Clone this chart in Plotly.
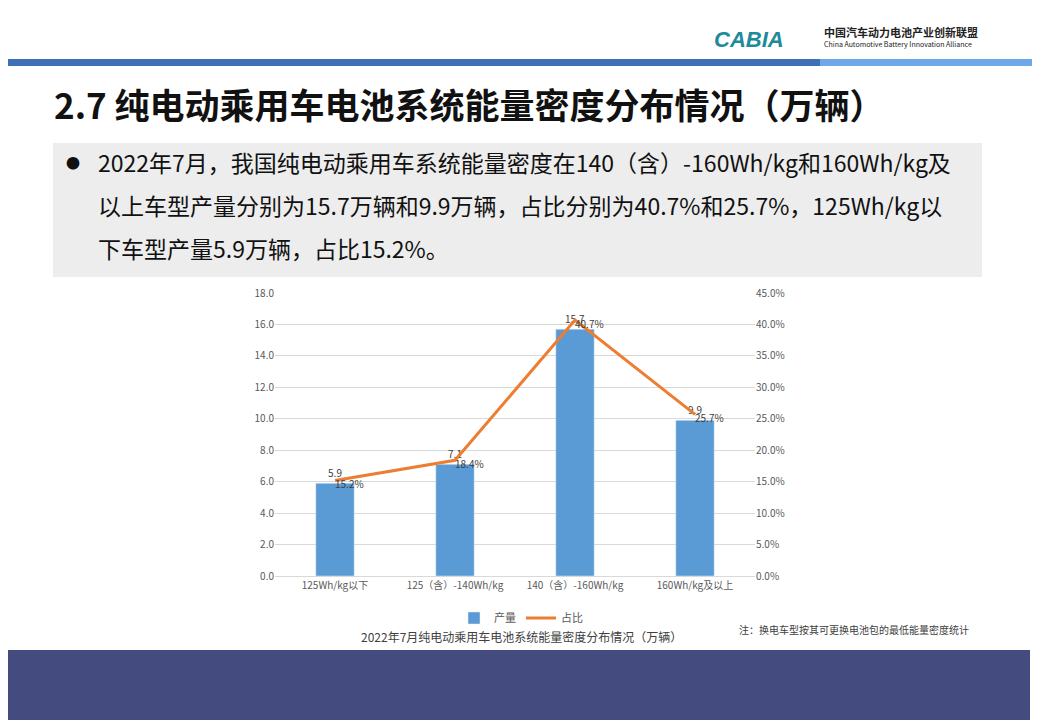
import plotly.graph_objects as go

categories = ["125Wh/kg以下", "125（含）-140Wh/kg", "140（含）-160Wh/kg", "160Wh/kg及以上"]
output_10k = [5.9, 7.1, 15.7, 9.9]
share_pct = [15.2, 18.4, 40.7, 25.7]
summary_lines = [
    "2022年7月，我国纯电动乘用车系统能量密度在140（含）-160Wh/kg和160Wh/kg及",
    "以上车型产量分别为15.7万辆和9.9万辆，占比分别为40.7%和25.7%，125Wh/kg以",
    "下车型产量5.9万辆，占比15.2%。",
]

W, H = 1040, 720
OFF = 8  # page body margin
def px(x): return (x - OFF) / W
def py(y): return 1 - (y - OFF) / H

fig = go.Figure()
fig.add_trace(go.Bar(
    x=categories, y=output_10k, name="产量", marker_color="#5B9BD5", width=0.32,
    text=[f"{v:.1f}" for v in output_10k], textposition="outside",
    textfont=dict(size=10, color="#404040"), cliponaxis=False,
))
fig.add_trace(go.Scatter(
    x=categories, y=share_pct, name="占比", yaxis="y2", mode="lines+text",
    line=dict(color="#ED7D31", width=3),
    text=[f"{v:.1f}%" for v in share_pct], textposition="bottom right",
    textfont=dict(size=10, color="#404040"), cliponaxis=False,
))

shapes = [
    dict(type="rect", xref="paper", yref="paper", x0=0, x1=1, y0=py(66), y1=py(59),
         fillcolor="#3F6FB6", line_width=0, layer="below"),
    dict(type="rect", xref="paper", yref="paper", x0=px(820), x1=1, y0=py(66), y1=py(59),
         fillcolor="#6FA8E8", line_width=0, layer="below"),
    dict(type="rect", xref="paper", yref="paper", x0=px(53), x1=px(982), y0=py(277), y1=py(143),
         fillcolor="#EDEDED", line_width=0, layer="below"),
    dict(type="rect", xref="paper", yref="paper", x0=0, x1=px(1030), y0=0, y1=py(650),
         fillcolor="#434B7F", line_width=0, layer="below"),
]

def note(text, x, y, xanchor="left", yanchor="middle", **kw):
    return dict(text=text, x=px(x), y=py(y), xref="paper", yref="paper",
                xanchor=xanchor, yanchor=yanchor, showarrow=False, **kw)

annotations = [
    note("<b>2.7 纯电动乘用车电池系统能量密度分布情况（万辆）</b>", 52, 104,
         font=dict(size=35, color="#111111", family="Noto Sans CJK SC")),
    note("<b><i>CABIA</i></b>", 712, 40, font=dict(size=22, color="#1E8A9A", family="Liberation Sans")),
    note("<b>中国汽车动力电池产业创新联盟</b>", 822, 32, font=dict(size=11, color="#222222")),
    note("China Automotive Battery Innovation Alliance", 822, 44, font=dict(size=7, color="#222222")),
    note("●", 64, 162, font=dict(size=14, color="#111111")),
    note("2022年7月纯电动乘用车电池系统能量密度分布情况（万辆）", 521, 636, xanchor="center",
         font=dict(size=12, color="#404040")),
    note("注：换电车型按其可更换电池包的最低能量密度统计", 737, 629,
         font=dict(size=10, color="#404040")),
]
for i, line in enumerate(summary_lines):
    annotations.append(note(line, 96, 162 + 43 * i,
                            font=dict(size=23, color="#111111", family="Noto Sans CJK SC")))

fig.update_layout(
    width=W, height=H, margin=dict(l=0, r=0, t=0, b=0, autoexpand=False),
    paper_bgcolor="white", plot_bgcolor="white",
    shapes=shapes, annotations=annotations, showlegend=True,
    font=dict(family="Noto Sans CJK SC", size=10, color="#595959"),
    xaxis=dict(domain=[px(275), px(755)], showgrid=False, showline=True, linecolor="#D9D9D9",
               tickfont=dict(size=10, color="#595959"), ticks=""),
    yaxis=dict(range=[0, 18], dtick=2, tickformat=".1f", gridcolor="#D9D9D9",
               domain=[py(576), py(293)], zeroline=False, tickfont=dict(size=10)),
    yaxis2=dict(range=[0, 45], dtick=5, ticksuffix="%", tickformat=".1f", overlaying="y",
                side="right", showgrid=False, zeroline=False, tickfont=dict(size=10)),
    legend=dict(orientation="h", x=px(521), xanchor="center", y=py(618), yanchor="middle",
                font=dict(size=11, color="#595959"), bgcolor="rgba(0,0,0,0)"),
    bargap=0.5,
)

fig.write_html("out.html")
